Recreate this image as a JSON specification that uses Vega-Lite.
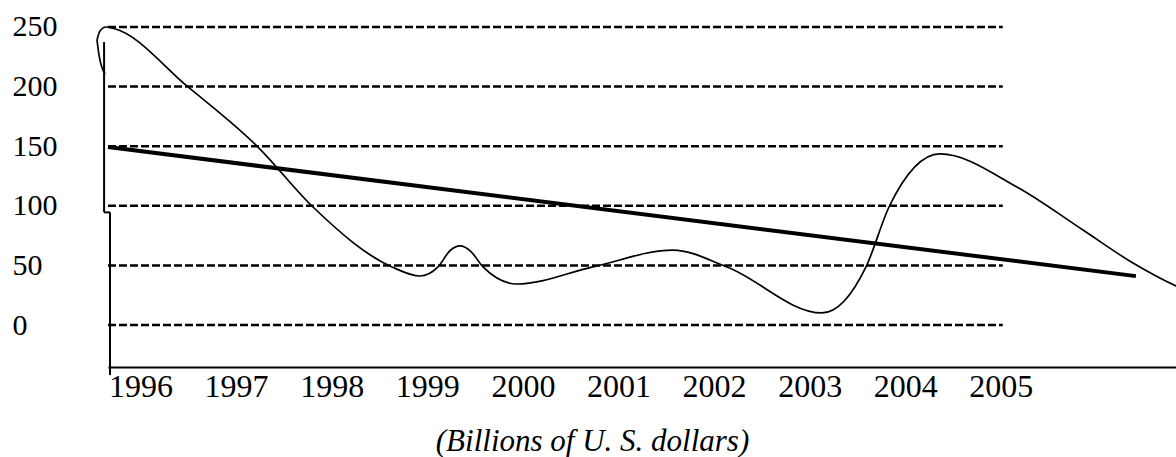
{
  "$schema": "https://vega.github.io/schema/vega-lite/v6.json",
  "autosize": {"type": "none"},
  "width": 1068,
  "height": 367,
  "padding": {"left": 108, "top": 0, "right": 0, "bottom": 90},
  "background": "white",
  "config": {
    "view": {"stroke": null},
    "axisX": {
      "domain": true, "domainColor": "black", "domainWidth": 2,
      "ticks": false, "tickSize": 0, "grid": false,
      "labelFont": "Liberation Serif", "labelFontSize": 32, "labelColor": "black",
      "labelBaseline": "alphabetic", "labelPadding": 29, "labelFlush": false, "labelOverlap": false,
      "titleFont": "Liberation Serif", "titleFontStyle": "italic", "titleFontWeight": "normal",
      "titleFontSize": 31, "titleColor": "black", "titleX": 484, "titleY": 83,
      "titleBaseline": "alphabetic", "titleAlign": "center"
    },
    "axisY": {
      "domain": false, "ticks": false, "tickSize": 0, "grid": false,
      "labelFont": "Liberation Serif", "labelFontSize": 30, "labelColor": "black",
      "labelAlign": "left", "labelBaseline": "middle", "labelPadding": 96,
      "labelFlush": false, "labelOverlap": false
    }
  },
  "datasets": {
    "grid": [{"v": 0}, {"v": 50}, {"v": 100}, {"v": 150}, {"v": 200}, {"v": 250}],
    "loop": [
      {"year": 1995.629, "value": 210.6},
      {"year": 1995.566, "value": 226.5},
      {"year": 1995.545, "value": 239.1}
    ],
    "curve": [
      {"year": 1995.545, "value": 239.1},
      {"year": 1995.576, "value": 246.6},
      {"year": 1995.639, "value": 250.0},
      {"year": 1995.723, "value": 248.7},
      {"year": 1996.497, "value": 199.7},
      {"year": 1997.229, "value": 149.3},
      {"year": 1997.804, "value": 99.0},
      {"year": 1998.631, "value": 48.7},
      {"year": 1998.924, "value": 41.1},
      {"year": 1999.112, "value": 48.7},
      {"year": 1999.237, "value": 62.3},
      {"year": 1999.342, "value": 66.3},
      {"year": 1999.457, "value": 61.6},
      {"year": 1999.583, "value": 48.7},
      {"year": 1999.938, "value": 34.4},
      {"year": 2000.733, "value": 48.7},
      {"year": 2001.570, "value": 62.9},
      {"year": 2002.135, "value": 48.7},
      {"year": 2003.129, "value": 10.1},
      {"year": 2003.589, "value": 48.7},
      {"year": 2003.830, "value": 99.0},
      {"year": 2004.363, "value": 143.5},
      {"year": 2005.168, "value": 115.8},
      {"year": 2005.859, "value": 79.7},
      {"year": 2006.382, "value": 52.0},
      {"year": 2006.832, "value": 32.7},
      {"year": 2007.187, "value": 21.0}
    ],
    "trend": [
      {"year": 1995.660, "value": 149.3},
      {"year": 2006.413, "value": 41.0}
    ]
  },
  "layer": [
    {
      "data": {"name": "grid"},
      "mark": {"type": "rule", "strokeDash": [8, 3], "strokeWidth": 2.5, "color": "black"},
      "encoding": {
        "y": {"field": "v", "type": "quantitative", "scale": {"domain": [-35.23, 272.65], "nice": false, "zero": false}, "title": null, "axis": {"values": [0, 50, 100, 150, 200, 250]}},
        "x": {"datum": 1995.66, "type": "quantitative", "scale": {"domain": [1995.66, 2006.832], "nice": false, "zero": false}, "title": "(Billions of U. S. dollars)", "axis": {"values": [1996, 1997, 1998, 1999, 2000, 2001, 2002, 2003, 2004, 2005], "format": "d"}},
        "x2": {"datum": 2005.02}
      }
    },
    {
      "data": {"values": [{}]},
      "mark": {"type": "rule", "strokeWidth": 2, "color": "black"},
      "encoding": {
        "x": {"datum": 1995.619, "type": "quantitative", "title": "(Billions of U. S. dollars)", "axis": {"values": [1996, 1997, 1998, 1999, 2000, 2001, 2002, 2003, 2004, 2005], "format": "d"}},
        "y": {"datum": 237.4, "type": "quantitative", "title": null, "axis": {"values": [0, 50, 100, 150, 200, 250]}},
        "y2": {"datum": 94.5}
      }
    },
    {
      "data": {"values": [{}]},
      "mark": {"type": "rule", "strokeWidth": 2, "color": "black"},
      "encoding": {
        "x": {"datum": 1995.619, "type": "quantitative", "title": "(Billions of U. S. dollars)", "axis": {"values": [1996, 1997, 1998, 1999, 2000, 2001, 2002, 2003, 2004, 2005], "format": "d"}},
        "x2": {"datum": 1995.681},
        "y": {"datum": 94.5, "type": "quantitative", "title": null, "axis": {"values": [0, 50, 100, 150, 200, 250]}}
      }
    },
    {
      "data": {"values": [{}]},
      "mark": {"type": "rule", "strokeWidth": 2, "color": "black"},
      "encoding": {
        "x": {"datum": 1995.681, "type": "quantitative", "title": "(Billions of U. S. dollars)", "axis": {"values": [1996, 1997, 1998, 1999, 2000, 2001, 2002, 2003, 2004, 2005], "format": "d"}},
        "y": {"datum": 94.5, "type": "quantitative", "title": null, "axis": {"values": [0, 50, 100, 150, 200, 250]}},
        "y2": {"datum": -42}
      }
    },
    {
      "data": {"name": "loop"},
      "mark": {"type": "line", "interpolate": "monotone", "orient": "horizontal", "strokeWidth": 1.7, "color": "black"},
      "encoding": {
        "x": {"field": "year", "type": "quantitative", "title": "(Billions of U. S. dollars)", "axis": {"values": [1996, 1997, 1998, 1999, 2000, 2001, 2002, 2003, 2004, 2005], "format": "d"}},
        "y": {"field": "value", "type": "quantitative", "title": null, "axis": {"values": [0, 50, 100, 150, 200, 250]}}
      }
    },
    {
      "data": {"name": "curve"},
      "mark": {"type": "line", "interpolate": "monotone", "strokeWidth": 1.7, "color": "black"},
      "encoding": {
        "x": {"field": "year", "type": "quantitative", "title": "(Billions of U. S. dollars)", "axis": {"values": [1996, 1997, 1998, 1999, 2000, 2001, 2002, 2003, 2004, 2005], "format": "d"}},
        "y": {"field": "value", "type": "quantitative", "title": null, "axis": {"values": [0, 50, 100, 150, 200, 250]}}
      }
    },
    {
      "data": {"name": "trend"},
      "mark": {"type": "line", "strokeWidth": 4, "color": "black"},
      "encoding": {
        "x": {"field": "year", "type": "quantitative", "title": "(Billions of U. S. dollars)", "axis": {"values": [1996, 1997, 1998, 1999, 2000, 2001, 2002, 2003, 2004, 2005], "format": "d"}},
        "y": {"field": "value", "type": "quantitative", "title": null, "axis": {"values": [0, 50, 100, 150, 200, 250]}}
      }
    }
  ]
}
